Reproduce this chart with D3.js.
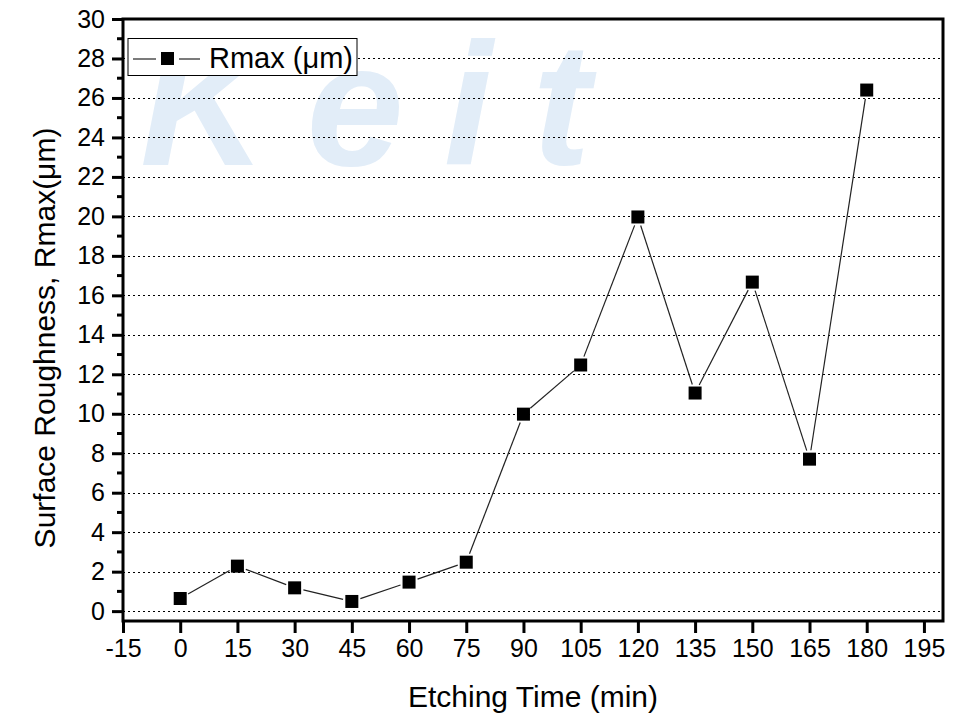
<!DOCTYPE html>
<html>
<head>
<meta charset="utf-8">
<script src="https://cdn.jsdelivr.net/npm/d3@7"></script>
<style>
  body { margin: 0; background: #fff; }
  svg { display: block; font-family: "Liberation Sans", Arial, sans-serif; }
</style>
</head>
<body>
<div id="chart"></div>
<script>
// data
const etchTimes = [0, 15, 30, 45, 60, 75, 90, 105, 120, 135, 150, 165, 180];
const rmaxValues = [0.64, 2.28, 1.18, 0.49, 1.47, 2.48, 9.98, 12.47, 19.97, 11.05, 16.67, 7.70, 26.4];
const xTicks = [-15, 0, 15, 30, 45, 60, 75, 90, 105, 120, 135, 150, 165, 180, 195];
const yTicks = [0, 2, 4, 6, 8, 10, 12, 14, 16, 18, 20, 22, 24, 26, 28, 30];
const seriesName = 'Rmax (\u03bcm)';

const W = 979, H = 722;
const margin = { left: 123, right: 36, top: 19, bottom: 101 };
const FONT = '"Liberation Sans", Arial, sans-serif';

const svg = d3.select('#chart').append('svg')
  .attr('width', W).attr('height', H);

// faint watermark
svg.append('text')
  .attr('x', 140).attr('y', 165)
  .attr('font-size', 175)
  .attr('font-weight', 'bold')
  .attr('font-style', 'italic')
  .attr('fill', '#e2edf8')
  .attr('letter-spacing', 40)
  .text('Keit');

const x = d3.scaleLinear().domain([-15, 200]).range([margin.left, W - margin.right]);
const y = d3.scaleLinear().domain([-0.5, 30]).range([H - margin.bottom, margin.top]);

// dotted grid
svg.append('g').selectAll('line')
  .data(yTicks.filter(d => d < 30))
  .join('line')
  .attr('x1', x(-15)).attr('x2', x(200))
  .attr('y1', d => Math.round(y(d)) + 0.5).attr('y2', d => Math.round(y(d)) + 0.5)
  .attr('stroke', '#000').attr('stroke-width', 1)
  .attr('stroke-dasharray', '2,3');

// frame
svg.append('rect')
  .attr('x', x(-15)).attr('y', y(30))
  .attr('width', x(200) - x(-15)).attr('height', y(-0.5) - y(30))
  .attr('fill', 'none').attr('stroke', '#000').attr('stroke-width', 3);

// y axis
const yAxis = svg.append('g')
  .attr('transform', `translate(${x(-15)},0)`)
  .call(d3.axisLeft(y).tickValues(yTicks).tickSize(11).tickPadding(7).tickFormat(d => String(d)));
yAxis.select('.domain').remove();
yAxis.selectAll('.tick line').attr('stroke-width', 3);
yAxis.selectAll('.tick text').attr('font-size', 25).attr('fill', '#000').attr('font-family', FONT);

// y minor ticks
svg.append('g').selectAll('line')
  .data(d3.range(1, 30, 2))
  .join('line')
  .attr('x1', x(-15) - 6).attr('x2', x(-15))
  .attr('y1', d => y(d)).attr('y2', d => y(d))
  .attr('stroke', '#000').attr('stroke-width', 3);

// x axis
const xAxis = svg.append('g')
  .attr('transform', `translate(0,${y(-0.5)})`)
  .call(d3.axisBottom(x).tickValues(xTicks).tickSize(12).tickPadding(6).tickFormat(d => String(d)));
xAxis.select('.domain').remove();
xAxis.selectAll('.tick line').attr('stroke-width', 3);
xAxis.selectAll('.tick text').attr('font-size', 25).attr('fill', '#000').attr('font-family', FONT);

// axis titles
svg.append('text')
  .attr('x', (x(-15) + x(200)) / 2).attr('y', 707)
  .attr('text-anchor', 'middle').attr('font-size', 30)
  .text('Etching Time (min)');

svg.append('text')
  .attr('transform', `translate(55,${(y(-0.5) + y(30)) / 2 + 18}) rotate(-90)`)
  .attr('text-anchor', 'middle').attr('font-size', 30)
  .text('Surface Roughness, Rmax(\u03bcm)');

// line segments with gaps at the markers
const pts = etchTimes.map((t, i) => [x(t), y(rmaxValues[i])]);
const gap = 9;
const segs = [];
for (let i = 0; i < pts.length - 1; i++) {
  const [x1, y1] = pts[i], [x2, y2] = pts[i + 1];
  const len = Math.hypot(x2 - x1, y2 - y1);
  const ux = (x2 - x1) / len, uy = (y2 - y1) / len;
  segs.push([x1 + ux * gap, y1 + uy * gap, x2 - ux * gap, y2 - uy * gap]);
}
svg.append('g').selectAll('line')
  .data(segs)
  .join('line')
  .attr('x1', d => d[0]).attr('y1', d => d[1])
  .attr('x2', d => d[2]).attr('y2', d => d[3])
  .attr('stroke', '#222').attr('stroke-width', 1.2);

const ms = 13;
svg.append('g').selectAll('rect')
  .data(pts)
  .join('rect')
  .attr('x', d => d[0] - ms / 2).attr('y', d => d[1] - ms / 2)
  .attr('width', ms).attr('height', ms)
  .attr('fill', '#000');

// legend
const lg = svg.append('g');
lg.append('rect')
  .attr('x', 128).attr('y', 38.5).attr('width', 229).attr('height', 37)
  .attr('fill', '#fff').attr('stroke', '#000').attr('stroke-width', 1);
lg.append('line').attr('x1', 133).attr('x2', 156).attr('y1', 59).attr('y2', 59)
  .attr('stroke', '#222').attr('stroke-width', 1.2);
lg.append('line').attr('x1', 179).attr('x2', 200).attr('y1', 59).attr('y2', 59)
  .attr('stroke', '#222').attr('stroke-width', 1.2);
lg.append('rect').attr('x', 161).attr('y', 52).attr('width', ms).attr('height', ms).attr('fill', '#000');
lg.append('text').attr('x', 209).attr('y', 68)
  .attr('font-size', 29).text(seriesName);
</script>
</body>
</html>
